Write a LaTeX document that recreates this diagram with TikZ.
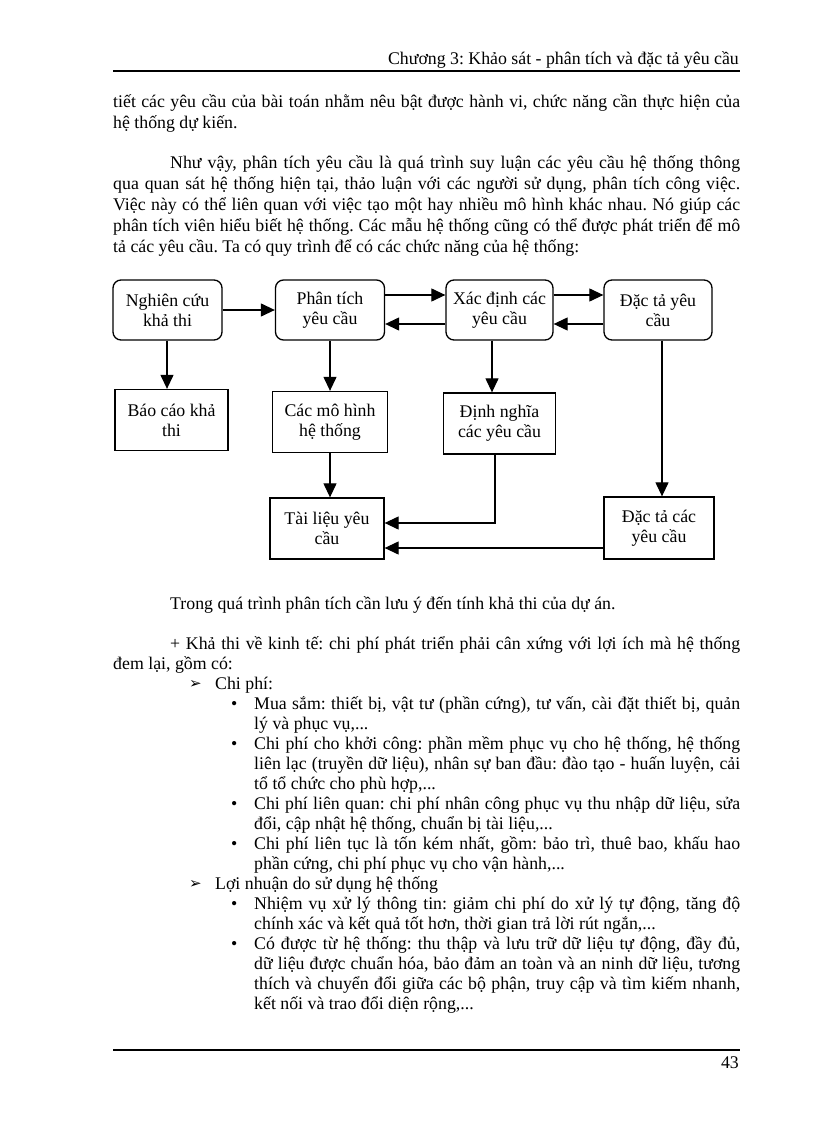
\documentclass[tikz,border=0pt]{standalone}
\usepackage{fontspec}
\setmainfont{Liberation Serif}
\newfontfamily\arrfont{DejaVu Sans}
\usetikzlibrary{positioning,arrows.meta}

\begin{document}
\frenchspacing
\begin{tikzpicture}[x=1pt,y=1pt,on grid,
    >={Triangle[length=14pt,width=13pt]},
    stepbox/.style={draw,line width=1.3pt,rounded corners=8pt,minimum width=109pt,
      minimum height=60pt,align=center,font=\fontsize{17.8}{20}\selectfont},
    outbox/.style={draw,line width=1.3pt,minimum height=61pt,align=center,
      font=\fontsize{17.8}{20}\selectfont},
    link/.style={->,line width=1.2pt},
    rule/.style={line width=1.5pt},
    txt/.style={anchor=base west,inner sep=0pt,font=\fontsize{17.8}{21}\selectfont},
    para/.style={txt,text width=627pt,align=justify},
    item/.style={txt,text width=486pt,align=justify,font=\fontsize{17.8}{20}\selectfont},
    dot/.style={txt},
    head/.style={txt,font=\arrfont\fontsize{15}{17}\selectfont}]
   \useasboundingbox (0,0) rectangle (816,-1123);
   % header and footer
   \node[txt,anchor=base east] (top) at (739,-65) {Chương 3: Khảo sát - phân tích và đặc tả yêu cầu};
   \draw[rule] (113,-71) -- (740,-71);
   \draw[rule] (113,-1050) -- (740,-1050);
   \node[txt,anchor=base east] (page) at (739,-1068) {43};
   % text above the chart
   \node[para] (t_1) at (113,-108) {tiết các yêu cầu của bài toán nhằm nêu bật được hành vi, chức năng cần thực hiện của\linebreak
     hệ thống dự kiến.};
   \node[para] (t_2) at (113,-169) {\hspace*{57pt}Như vậy, phân tích yêu cầu là quá trình suy luận các yêu cầu hệ thống thông\linebreak
     qua quan sát hệ thống hiện tại, thảo luận với các người sử dụng, phân tích công việc.\linebreak
     Việc này có thể liên quan với việc tạo một hay nhiều mô hình khác nhau. Nó giúp các\linebreak
     phân tích viên hiểu biết hệ thống. Các mẫu hệ thống cũng có thể được phát triển để mô\linebreak
     tả các yêu cầu. Ta có quy trình để có các chức năng của hệ thống:};
   % the chart
   \node[stepbox] (s_1) at (167.5,-310) {Nghiên cứu\\khả thi};
   \node[stepbox] (s_2) [right=162.5pt of s_1] {Phân tích\\yêu cầu};
   \node[stepbox,minimum width=107pt] (s_3) [right=169.5pt of s_2] {Xác định các\\yêu cầu};
   \node[stepbox,minimum width=108pt] (s_4) [right=158.5pt of s_3] {Đặc tả yêu\\cầu};
   \node[outbox,minimum width=113pt] (o_1) [below right=110pt and 4pt of s_1] {Báo cáo khả\\thi};
   \node[outbox,minimum width=115pt] (o_2) [below=112pt of s_2] {Các mô hình\\hệ thống};
   \node[outbox,minimum width=112pt] (o_3) [below=113.5pt of s_3] {Định nghĩa\\các yêu cầu};
   \node[outbox,minimum width=114pt] (d_1) [below left=106.5pt and 3pt of o_2] {Tài liệu yêu\\cầu};
   \node[outbox,minimum width=110pt,minimum height=62pt] (d_2) [below right=218pt and 1pt of s_4] {Đặc tả các\\yêu cầu};
   \path[link] (s_1) edge (s_2);
   \draw[link] ([yshift=15pt]s_2.east) -- ([yshift=15pt]s_3.west);
   \draw[link] ([yshift=-14pt]s_3.west) -- ([yshift=-14pt]s_2.east);
   \draw[link] ([yshift=15pt]s_3.east) -- ([yshift=15pt]s_4.west);
   \draw[link] ([yshift=-14pt]s_4.west) -- ([yshift=-14pt]s_3.east);
   \draw[link] ([xshift=-0.5pt]s_1.south) -- ([xshift=-0.5pt]s_1.south |- o_1.north);
   \draw[link] (s_2.south) -- (o_2.north);
   \draw[link] ([xshift=-7.5pt]s_3.south) -- ([xshift=-7.5pt]s_3.south |- o_3.north);
   \draw[link] ([xshift=4pt]s_4.south) -- ([xshift=4pt]s_4.south |- d_2.north);
   \draw[link] (o_2.south) -- (o_2.south |- d_1.north);
   \draw[link] ([xshift=-4.5pt]o_3.south) |- ([yshift=5.5pt]d_1.east);
   \coordinate (c_1) at ([yshift=-20pt]d_2.west);
   \draw[link] (c_1) -- (c_1 -| d_1.east);
   % text below the chart
   \node[txt] (t_3) at (170,-609) {Trong quá trình phân tích cần lưu ý đến tính khả thi của dự án.};
   \node[para,font=\fontsize{17.8}{20}\selectfont] (t_4) at (113,-649) {\hspace*{57pt}+ Khả thi về kinh tế: chi phí phát triển phải cân xứng với lợi ích mà hệ thống\linebreak
     đem lại, gồm có:};
   \node[head] (a_1) at (189,-688) {➢};
   \node[txt] (h_1) at (215,-689) {Chi phí:};
   \node[item] (i_1) at (254,-709) {Mua sắm: thiết bị, vật tư (phần cứng), tư vấn, cài đặt thiết bị, quản\linebreak
     lý và phục vụ,...};
   \node[item] (i_2) at (254,-749) {Chi phí cho khởi công: phần mềm phục vụ cho hệ thống, hệ thống\linebreak
     liên lạc (truyền dữ liệu), nhân sự ban đầu: đào tạo - huấn luyện, cải\linebreak
     tổ tổ chức cho phù hợp,...};
   \node[item] (i_3) at (254,-809) {Chi phí liên quan: chi phí nhân công phục vụ thu nhập dữ liệu, sửa\linebreak
     đổi, cập nhật hệ thống, chuẩn bị tài liệu,...};
   \node[item] (i_4) at (254,-849) {Chi phí liên tục là tốn kém nhất, gồm: bảo trì, thuê bao, khấu hao\linebreak
     phần cứng, chi phí phục vụ cho vận hành,...};
   \node[head] (a_2) at (189,-888) {➢};
   \node[txt] (h_2) at (215,-889) {Lợi nhuận do sử dụng hệ thống};
   \node[item] (i_5) at (254,-909) {Nhiệm vụ xử lý thông tin: giảm chi phí do xử lý tự động, tăng độ\linebreak
     chính xác và kết quả tốt hơn, thời gian trả lời rút ngắn,...};
   \node[item] (i_6) at (254,-949) {Có được từ hệ thống: thu thập và lưu trữ dữ liệu tự động, đầy đủ,\linebreak
     dữ liệu được chuẩn hóa, bảo đảm an toàn và an ninh dữ liệu, tương\linebreak
     thích và chuyển đổi giữa các bộ phận, truy cập và tìm kiếm nhanh,\linebreak
     kết nối và trao đổi diện rộng,...};
   \foreach \n/\y in {1/709,2/749,3/809,4/849,5/909,6/949}
     \node[dot] (b_\n) at (231,-\y) {•};
\end{tikzpicture}
\end{document}
